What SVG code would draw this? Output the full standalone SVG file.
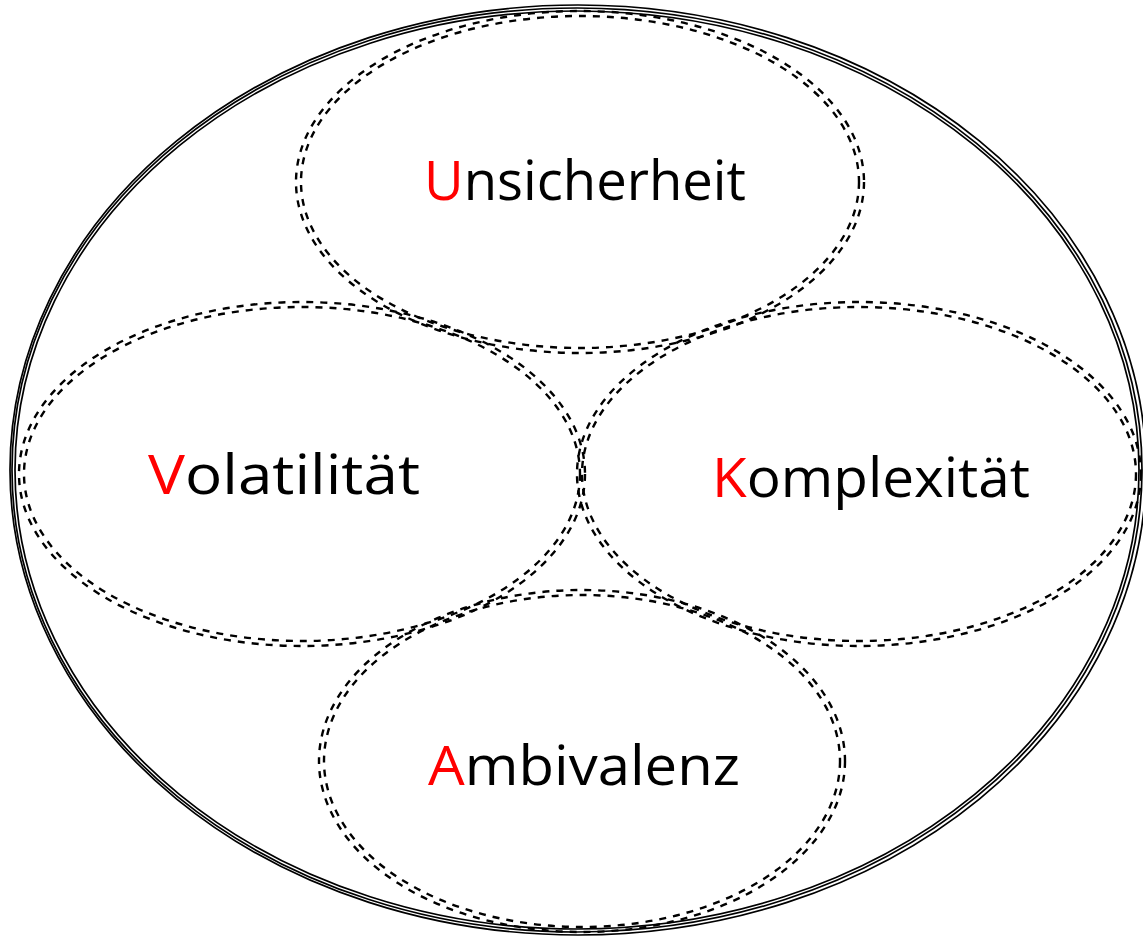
<svg xmlns="http://www.w3.org/2000/svg" width="1143" height="937" viewBox="0 0 1143 937">
<style>
.outer{fill:none;stroke:#000;stroke-width:1.7}
.dash{fill:none;stroke:#000;stroke-width:2.4;stroke-dasharray:7 7}
.lbl{font-family:"Open Sans","Liberation Sans",sans-serif;font-size:54px;fill:#000;text-anchor:middle}
.red{fill:#ff0000}
</style>
<rect width="1143" height="937" fill="#fff"/>
<g id="frame">
<ellipse class="outer" cx="577" cy="470" rx="562" ry="459"/>
<ellipse class="outer" cx="577" cy="470" rx="565" ry="462"/>
<ellipse class="outer" cx="578" cy="470" rx="568" ry="465"/>
</g>
<g id="unsicherheit">
<ellipse class="dash" cx="580" cy="182" rx="279" ry="166"/>
<ellipse class="dash" cx="580" cy="182" rx="284" ry="171"/>
<text class="lbl" x="585" y="200" textLength="322" lengthAdjust="spacingAndGlyphs"><tspan class="red">U</tspan>nsicherheit</text>
</g>
<g id="volatilitaet">
<ellipse class="dash" cx="302" cy="474" rx="278" ry="167"/>
<ellipse class="dash" cx="302" cy="474" rx="283" ry="172"/>
<text class="lbl" x="284" y="494" textLength="272" lengthAdjust="spacingAndGlyphs"><tspan class="red">V</tspan>olatilität</text>
</g>
<g id="komplexitaet">
<ellipse class="dash" cx="859" cy="474" rx="277" ry="167"/>
<ellipse class="dash" cx="859" cy="474" rx="282" ry="172"/>
<text class="lbl" x="871" y="497" textLength="318" lengthAdjust="spacingAndGlyphs"><tspan class="red">K</tspan>omplexität</text>
</g>
<g id="ambivalenz">
<ellipse class="dash" cx="582" cy="761" rx="258" ry="166"/>
<ellipse class="dash" cx="582" cy="761" rx="263" ry="171"/>
<text class="lbl" x="584" y="785" textLength="312" lengthAdjust="spacingAndGlyphs"><tspan class="red">A</tspan>mbivalenz</text>
</g>
<g id="connectors"></g>
</svg>
